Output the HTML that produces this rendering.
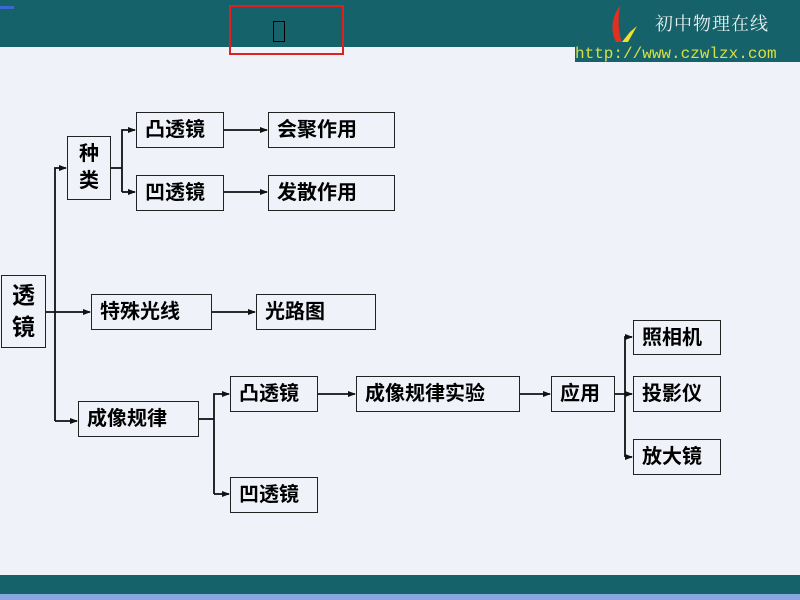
<!DOCTYPE html>
<html><head><meta charset="utf-8"><style>
body{margin:0;width:800px;height:600px;overflow:hidden;background:#f0f2fa;position:relative;font-family:"Liberation Sans","Noto Sans CJK SC",sans-serif}
.b{position:absolute;border:1.5px solid #222;box-sizing:border-box;background:#f0f2fa;font-size:20px;font-weight:bold;color:#000;display:flex;align-items:center;padding-left:8px;line-height:1}
.c{justify-content:center;padding:0;text-align:center;line-height:1.35}
</style></head><body>
<div style="position:absolute;left:0;top:0;width:800px;height:47px;background:#16626a"></div>
<div style="position:absolute;left:575px;top:47px;width:225px;height:15px;background:#16626a"></div>
<div style="position:absolute;left:0;top:575px;width:800px;height:19px;background:#16626a"></div>
<div style="position:absolute;left:0;top:594px;width:800px;height:6px;background:#8aa6e0"></div>
<div style="position:absolute;left:0;top:6px;width:14px;height:3px;background:#3a6ad0"></div>
<div style="position:absolute;left:229px;top:5px;width:115px;height:50px;border:2px solid #e02020;box-sizing:border-box"></div>
<div style="position:absolute;left:273px;top:21px;width:12px;height:21px;border:1.5px solid #000;box-sizing:border-box"></div>
<svg style="position:absolute;left:608px;top:4px" width="30" height="40"><path d="M12 2 C4 12 2 26 8 38 L14 38 C10 28 10 14 12 2Z" fill="#e03020"/><path d="M14 38 L20 38 L29 22 L22 28 Z" fill="#f0e030"/></svg>
<div style="position:absolute;left:655px;top:10px;font-family:'Noto Serif CJK SC',serif;font-size:18px;color:#e8f0f0;letter-spacing:1px">初中物理在线</div>
<div style="position:absolute;left:575px;top:45px;font-family:'Liberation Mono',monospace;font-size:16px;color:#d8e040">http://www.czwlzx.com</div>

<svg style="position:absolute;left:0;top:0" width="800" height="600">
<defs><marker id="a" markerWidth="8" markerHeight="8" refX="7" refY="4" orient="auto" markerUnits="userSpaceOnUse"><path d="M0 1 L8 4 L0 7Z" fill="#111"/></marker></defs>
<g stroke="#111" stroke-width="1.8" fill="none">
<path d="M45 312 H90" marker-end="url(#a)"/>
<path d="M55 421 V168 H66" marker-end="url(#a)"/>
<path d="M55 421 H77" marker-end="url(#a)"/>
<path d="M110 168 H122"/>
<path d="M122 192 V130 H135" marker-end="url(#a)"/>
<path d="M122 192 H135" marker-end="url(#a)"/>
<path d="M224 130 H267" marker-end="url(#a)"/>
<path d="M224 192 H267" marker-end="url(#a)"/>
<path d="M212 312 H255" marker-end="url(#a)"/>
<path d="M199 419 H214"/>
<path d="M214 494 V394 H229" marker-end="url(#a)"/>
<path d="M214 494 H229" marker-end="url(#a)"/>
<path d="M318 394 H355" marker-end="url(#a)"/>
<path d="M520 394 H550" marker-end="url(#a)"/>
<path d="M615 394 H632" marker-end="url(#a)"/>
<path d="M625 457 V337 H632" marker-end="url(#a)"/>
<path d="M625 457 H632" marker-end="url(#a)"/>
</g></svg>

<div class="b c" style="left:1px;top:275px;width:45px;height:73px;font-size:23px">透<br>镜</div>
<div class="b c" style="left:67px;top:136px;width:44px;height:64px">种<br>类</div>
<div class="b" style="left:136px;top:112px;width:88px;height:36px">凸透镜</div>
<div class="b" style="left:136px;top:175px;width:88px;height:36px">凹透镜</div>
<div class="b" style="left:268px;top:112px;width:127px;height:36px">会聚作用</div>
<div class="b" style="left:268px;top:175px;width:127px;height:36px">发散作用</div>
<div class="b" style="left:91px;top:294px;width:121px;height:36px">特殊光线</div>
<div class="b" style="left:256px;top:294px;width:120px;height:36px">光路图</div>
<div class="b" style="left:78px;top:401px;width:121px;height:36px">成像规律</div>
<div class="b" style="left:230px;top:376px;width:88px;height:36px">凸透镜</div>
<div class="b" style="left:356px;top:376px;width:164px;height:36px">成像规律实验</div>
<div class="b" style="left:551px;top:376px;width:64px;height:36px">应用</div>
<div class="b" style="left:230px;top:477px;width:88px;height:36px">凹透镜</div>
<div class="b" style="left:633px;top:320px;width:88px;height:35px">照相机</div>
<div class="b" style="left:633px;top:376px;width:88px;height:36px">投影仪</div>
<div class="b" style="left:633px;top:439px;width:88px;height:36px">放大镜</div>
</body></html>
